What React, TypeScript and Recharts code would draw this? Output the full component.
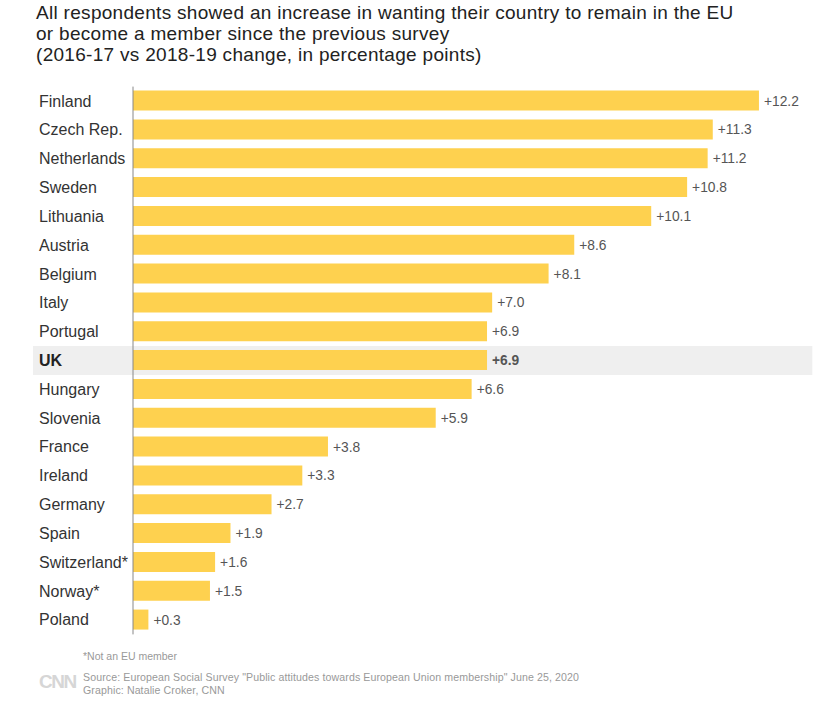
import { BarChart, Bar, XAxis, YAxis, ReferenceArea, LabelList } from 'recharts'

const countries = [
  'Finland', 'Czech Rep.', 'Netherlands', 'Sweden', 'Lithuania', 'Austria', 'Belgium',
  'Italy', 'Portugal', 'UK', 'Hungary', 'Slovenia', 'France', 'Ireland', 'Germany',
  'Spain', 'Switzerland*', 'Norway*', 'Poland',
]
const changes = [12.2, 11.3, 11.2, 10.8, 10.1, 8.6, 8.1, 7.0, 6.9, 6.9, 6.6, 5.9, 3.8, 3.3, 2.7, 1.9, 1.6, 1.5, 0.3]
const highlight = 'UK'

const data = countries.map((name, i) => ({ name, value: changes[i] }))

const FONT = '"Liberation Sans", Arial, Helvetica, sans-serif'
const YELLOW = '#fed14f'

const CountryTick = ({ y, payload }: any) => {
  const hl = payload.value === highlight
  return (
    <text x={39} y={y} dy={5.5} textAnchor="start" fontSize={16} fontFamily={FONT}
      fontWeight={hl ? 700 : 400} fill={hl ? '#222' : '#333'}>
      {payload.value}
    </text>
  )
}

const ValueLabel = ({ x, y, width, height, value, index }: any) => {
  const hl = countries[index] === highlight
  return (
    <text x={x + width + 5} y={y + height / 2} dy={5} fontSize={13.8} fontFamily={FONT}
      fontWeight={hl ? 700 : 400} fill="#555">
      {`+${Number(value).toFixed(1)}`}
    </text>
  )
}

export default function App() {
  return (
    <div style={{ position: 'absolute', top: 0, left: 0, width: 830, height: 710, background: '#fff', fontFamily: FONT }}>
      <div style={{ position: 'absolute', left: 36, top: 2, fontSize: 19, letterSpacing: 0.3, lineHeight: '21px', color: '#222' }}>
        All respondents showed an increase in wanting their country to remain in the EU<br />
        or become a member since the previous survey<br />
        (2016-17 vs 2018-19 change, in percentage points)
      </div>
      <BarChart width={830} height={710} data={data} layout="vertical"
        margin={{ top: 86.6, right: 30, bottom: 75.6, left: 0 }}>
        <XAxis type="number" domain={[0, 13]} hide />
        <YAxis type="category" dataKey="name" width={133} tick={<CountryTick />}
          tickLine={false} axisLine={{ stroke: '#888' }} interval={0} />
        <ReferenceArea y1={highlight} y2={highlight} x1={-1.95} x2={13.24}
          fill="#efefef" fillOpacity={1} stroke="none" ifOverflow="visible" />
        <Bar dataKey="value" fill={YELLOW} barSize={20} isAnimationActive={false}>
          <LabelList dataKey="value" content={<ValueLabel />} />
        </Bar>
      </BarChart>
      <div style={{ position: 'absolute', left: 83, top: 650, fontSize: 10.5, color: '#999' }}>*Not an EU member</div>
      <div style={{ position: 'absolute', left: 39, top: 671, fontSize: 19, fontWeight: 700, color: '#d6d6d6', letterSpacing: -1.5 }}>CNN</div>
      <div style={{ position: 'absolute', left: 83, top: 671, fontSize: 10.6, letterSpacing: 0.1, lineHeight: '13px', color: '#999' }}>
        Source: European Social Survey "Public attitudes towards European Union membership" June 25, 2020<br />
        Graphic: Natalie Croker, CNN
      </div>
    </div>
  )
}
